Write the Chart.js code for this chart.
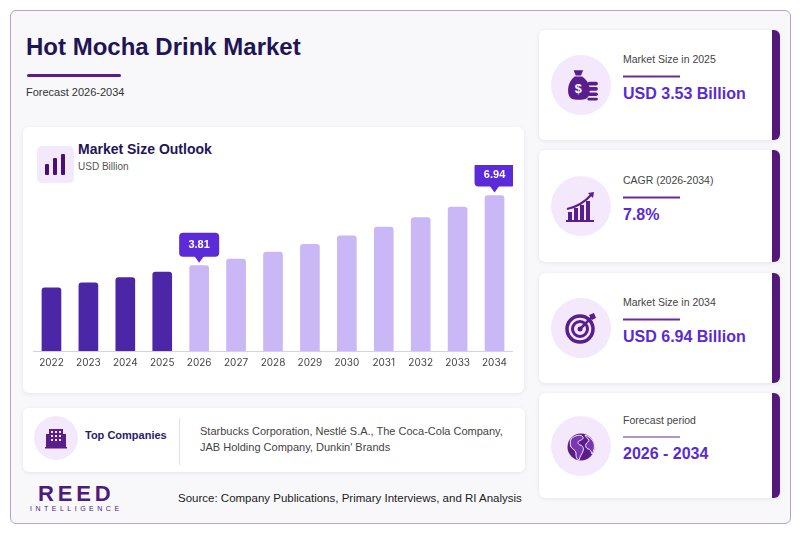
<!DOCTYPE html>
<html>
<head>
<meta charset="utf-8">
<script src="https://cdn.jsdelivr.net/npm/chart.js@4.4.1/dist/chart.umd.min.js"></script>
<style>
  * { box-sizing: border-box; margin: 0; padding: 0; }
  body { width: 800px; height: 533px; background: #fff; font-family: Inter, "Liberation Sans", Arial, sans-serif; position: relative; overflow: hidden; }
  .frame { position: absolute; left: 10px; top: 10px; width: 781px; height: 514px; border: 1px solid #b99fd3; border-radius: 6px; background: #f8f8fa; }
  .title { position: absolute; left: 26px; top: 33px; font: bold 24px "Liberation Sans", Arial, sans-serif; color: #1f1556; }
  .title-line { position: absolute; left: 27px; top: 74px; width: 94px; height: 3px; background: #5c1d8c; border-radius: 2px; }
  .subtitle { position: absolute; left: 26px; top: 86px; font-size: 11px; color: #333; font-family: "Liberation Sans", Arial, sans-serif; }
  .card { position: absolute; background: #fff; border-radius: 6px; box-shadow: 0 1px 4px rgba(0,0,0,0.08); }
  .chart-card { left: 23px; top: 127px; width: 501px; height: 266px; }
  .icon-box { position: absolute; left: 14px; top: 19px; width: 37px; height: 37px; background: #f4e9fc; border-radius: 5px; }
  .chart-title { position: absolute; left: 55px; top: 14px; font: bold 14px "Liberation Sans", Arial, sans-serif; color: #1f1556; }
  .chart-sub { position: absolute; left: 55px; top: 34px; font-size: 10px; color: #555; font-family: "Liberation Sans", Arial, sans-serif; }
  .canvas-wrap { position: absolute; left: 10px; top: 38px; width: 480px; height: 202px; }
  .comp-card { left: 23px; top: 408px; width: 502px; height: 64px; }
  .comp-circle { position: absolute; left: 11px; top: 8px; width: 44px; height: 44px; border-radius: 50%; background: #f4e9fc; }
  .comp-title { position: absolute; left: 62px; top: 21px; font: bold 11px "Liberation Sans", Arial, sans-serif; color: #2a1a6e; }
  .comp-div { position: absolute; left: 156px; top: 10px; width: 1px; height: 47px; background: #eadcf0; }
  .comp-text { position: absolute; left: 177px; top: 15px; font-size: 11px; line-height: 16px; color: #444; font-family: "Liberation Sans", Arial, sans-serif; }
  .logo1 { position: absolute; left: 38px; top: 481px; font: bold 22px "Liberation Sans", Arial, sans-serif; letter-spacing: 3.8px; color: #4d1a7e; }
  .logo2 { position: absolute; left: 30px; top: 505px; font: 7px "Liberation Sans", Arial, sans-serif; letter-spacing: 3.5px; color: #4d1a7e; }
  .source { position: absolute; left: 178px; top: 492px; font-size: 11.5px; color: #222; font-family: "Liberation Sans", Arial, sans-serif; }
  .kpi { left: 539px; width: 241px; border-right: 8px solid #541878; display: flex; align-items: center; }
  .kpi .circ { position: absolute; left: 12px; width: 60px; height: 60px; border-radius: 50%; background: #f4e9fc; display: flex; align-items: center; justify-content: center; }
  .kpi .txt { position: absolute; left: 84px; transform: translateY(-7.5px); }
  .kpi .lab { font-size: 10.5px; color: #444; font-family: "Liberation Sans", Arial, sans-serif; }
  .kpi .ul { width: 57px; height: 1.5px; background: #6a2a98; margin: 11px 0 7px; }
  .kpi .val { font: bold 16px "Liberation Sans", Arial, sans-serif; color: #5a2bd4; }
</style>
</head>
<body>
<div class="frame"></div>
<div class="title">Hot Mocha Drink Market</div>
<div class="title-line"></div>
<div class="subtitle">Forecast 2026-2034</div>

<div class="card chart-card">
  <div class="icon-box">
    <svg width="37" height="37" viewBox="0 0 37 37">
      <rect x="8" y="18" width="4" height="11" rx="1" fill="#4b0f72"/>
      <rect x="16" y="12" width="4" height="17" rx="1" fill="#4b0f72"/>
      <rect x="24" y="8" width="4" height="21" rx="1" fill="#4b0f72"/>
    </svg>
  </div>
  <div class="chart-title">Market Size Outlook</div>
  <div class="chart-sub">USD Billion</div>
  <div class="canvas-wrap"><canvas id="myChart"></canvas></div>
</div>

<div class="card comp-card">
  <div class="comp-circle">
    <svg width="44" height="44" viewBox="0 0 44 44">
      <rect x="15" y="13" width="14" height="18" fill="#5a1d8c"/>
      <rect x="12" y="18" width="4" height="13" fill="#5a1d8c"/>
      <rect x="28" y="18" width="4" height="13" fill="#5a1d8c"/>
      <g fill="#f4e9fc">
        <rect x="17" y="15" width="2" height="2"/><rect x="21" y="15" width="2" height="2"/><rect x="25" y="15" width="2" height="2"/>
        <rect x="17" y="19" width="2" height="2"/><rect x="21" y="19" width="2" height="2"/><rect x="25" y="19" width="2" height="2"/>
        <rect x="17" y="23" width="2" height="2"/><rect x="21" y="23" width="2" height="2"/><rect x="25" y="23" width="2" height="2"/>
      </g>
      <rect x="11" y="31" width="22" height="1.5" fill="#5a1d8c"/>
    </svg>
  </div>
  <div class="comp-title">Top Companies</div>
  <div class="comp-div"></div>
  <div class="comp-text">Starbucks Corporation, Nestlé S.A., The Coca-Cola Company,<br>JAB Holding Company, Dunkin' Brands</div>
</div>

<div class="logo1">REED</div>
<div class="logo2">INTELLIGENCE</div>
<div class="source">Source: Company Publications, Primary Interviews, and RI Analysis</div>

<div class="card kpi" style="top:30px;height:110px;">
  <div class="circ">
    <svg width="38" height="38" viewBox="0 0 36 36">
      <path d="M11 4 h9 l-2 5 h-5 z" fill="#5a1d8c"/>
      <path d="M12 10 h7 c6 4 8 10 7 16 c-1 5 -4 6 -10 6 c-6 0 -9 -1 -10 -6 c-1 -6 1 -12 6 -16z" fill="#5a1d8c"/>
      <text x="15.5" y="26" font-size="12" font-weight="bold" fill="#fff" text-anchor="middle" font-family="Liberation Sans">$</text>
      <rect x="24" y="15" width="10" height="3.4" rx="1.7" fill="#5a1d8c"/>
      <rect x="24" y="20" width="10" height="3.4" rx="1.7" fill="#5a1d8c"/>
      <rect x="24" y="25" width="10" height="3.4" rx="1.7" fill="#5a1d8c"/>
      <rect x="24" y="30" width="10" height="2.6" rx="1.3" fill="#5a1d8c"/>
    </svg>
  </div>
  <div class="txt"><div class="lab">Market Size in 2025</div><div class="ul"></div><div class="val">USD 3.53 Billion</div></div>
</div>

<div class="card kpi" style="top:150px;height:112px;">
  <div class="circ">
    <svg width="36" height="36" viewBox="0 0 36 36">
      <rect x="5" y="24" width="4" height="8" fill="#5a1d8c"/>
      <rect x="11" y="20" width="4" height="12" fill="#5a1d8c"/>
      <rect x="17" y="17" width="4" height="15" fill="#5a1d8c"/>
      <rect x="23" y="13" width="4" height="19" fill="#5a1d8c"/>
      <rect x="3" y="32" width="28" height="2" fill="#5a1d8c"/>
      <path d="M4 21 C 14 19, 22 14, 29 6" stroke="#5a1d8c" stroke-width="2.2" fill="none"/>
      <path d="M25 5 L31 4 L30 10 z" fill="#5a1d8c"/>
    </svg>
  </div>
  <div class="txt"><div class="lab">CAGR (2026-2034)</div><div class="ul"></div><div class="val">7.8%</div></div>
</div>

<div class="card kpi" style="top:273px;height:110px;">
  <div class="circ">
    <svg width="36" height="36" viewBox="0 0 36 36">
      <circle cx="17" cy="19" r="13" fill="none" stroke="#5a1d8c" stroke-width="3.5"/>
      <circle cx="17" cy="19" r="7.5" fill="none" stroke="#5a1d8c" stroke-width="3"/>
      <circle cx="17" cy="19" r="2.5" fill="#5a1d8c"/>
      <path d="M17 19 L29 7" stroke="#5a1d8c" stroke-width="2.5"/>
      <path d="M26 5 L31 3 L33 8 L29 10 z" fill="#5a1d8c"/>
    </svg>
  </div>
  <div class="txt"><div class="lab">Market Size in 2034</div><div class="ul"></div><div class="val">USD 6.94 Billion</div></div>
</div>

<div class="card kpi" style="top:393px;height:105px;">
  <div class="circ">
    <svg width="36" height="36" viewBox="0 0 36 36">
      <circle cx="18" cy="19" r="13.5" fill="#5a1d8c"/>
      <path d="M8 11 c4 -4 10 -5 12 -2 c1 2 -2 3 -4 4 c-2 1 -1 3 1 4 c3 1 4 3 3 6 c-1 3 -3 5 -4 9 c-3 -1 -3 -4 -3 -7 c0 -3 -4 -4 -5 -6 c-1 -3 -1 -5 0 -8z" fill="#7a36b0" stroke="#f4e9fc" stroke-width="1"/>
      <path d="M22 7 c4 1 7 4 9 8 c1 4 0 8 -2 11 c-1 -3 -2 -5 -4 -5 c-2 -1 -3 -3 -2 -5 c1 -2 3 -2 3 -4 c-1 -2 -3 -2 -4 -5z" fill="#7a36b0" stroke="#f4e9fc" stroke-width="1"/>
    </svg>
  </div>
  <div class="txt"><div class="lab">Forecast period</div><div class="ul"></div><div class="val">2026 - 2034</div></div>
</div>

<script>
const years = ['2022','2023','2024','2025','2026','2027','2028','2029','2030','2031','2032','2033','2034'];
const marketSize = [2.82, 3.04, 3.28, 3.53, 3.81, 4.11, 4.42, 4.76, 5.14, 5.54, 5.96, 6.43, 6.94];
const historicColor = '#4b27a8';
const forecastColor = '#c9b8f5';
const calloutIdx = [4, 12];

const barColors = years.map(y => (parseInt(y) <= 2025 ? historicColor : forecastColor));

// draws the little value boxes above the highlighted bars
const calloutPlugin = {
  id: 'callouts',
  afterDatasetsDraw(chart) {
    const ctx = chart.ctx;
    const meta = chart.getDatasetMeta(0);
    calloutIdx.forEach(i => {
      const bar = meta.data[i];
      const x = bar.x, top = bar.y;
      const w = 40, h = 24, r = 4;
      const bottom = top - 9;
      ctx.save();
      ctx.fillStyle = '#5a2bd6';
      ctx.beginPath();
      ctx.roundRect(x - w / 2, bottom - h, w, h, r);
      ctx.fill();
      ctx.beginPath();
      ctx.moveTo(x - 5, bottom - 1);
      ctx.lineTo(x + 5, bottom - 1);
      ctx.lineTo(x, bottom + 6);
      ctx.closePath();
      ctx.fill();
      ctx.fillStyle = '#fff';
      ctx.font = 'bold 11px "Liberation Sans", Arial, sans-serif';
      ctx.textAlign = 'center';
      ctx.textBaseline = 'middle';
      ctx.fillText(marketSize[i].toFixed(2), x, bottom - h / 2 + 0.5);
      ctx.restore();
    });
  }
};

const config = {
  type: 'bar',
  data: {
    labels: years,
    datasets: [{
      data: marketSize,
      backgroundColor: barColors,
      borderRadius: { topLeft: 3, topRight: 3 },
      borderSkipped: 'bottom',
      barThickness: 19
    }]
  },
  options: {
    responsive: true,
    maintainAspectRatio: false,
    animation: false,
    layout: { padding: { top: 8, left: 0, right: 0, bottom: 0 } },
    plugins: { legend: { display: false }, tooltip: { enabled: false } },
    scales: {
      x: {
        grid: { display: false },
        border: { display: true, color: '#d9cdf3', width: 1 },
        ticks: { color: '#444', font: { size: 10, family: 'Inter' }, padding: -2 }
      },
      y: {
        display: false,
        min: 0,
        max: 7.95
      }
    }
  },
  plugins: [calloutPlugin]
};

const myChart = new Chart(document.getElementById('myChart'), config);
</script>
</body>
</html>
